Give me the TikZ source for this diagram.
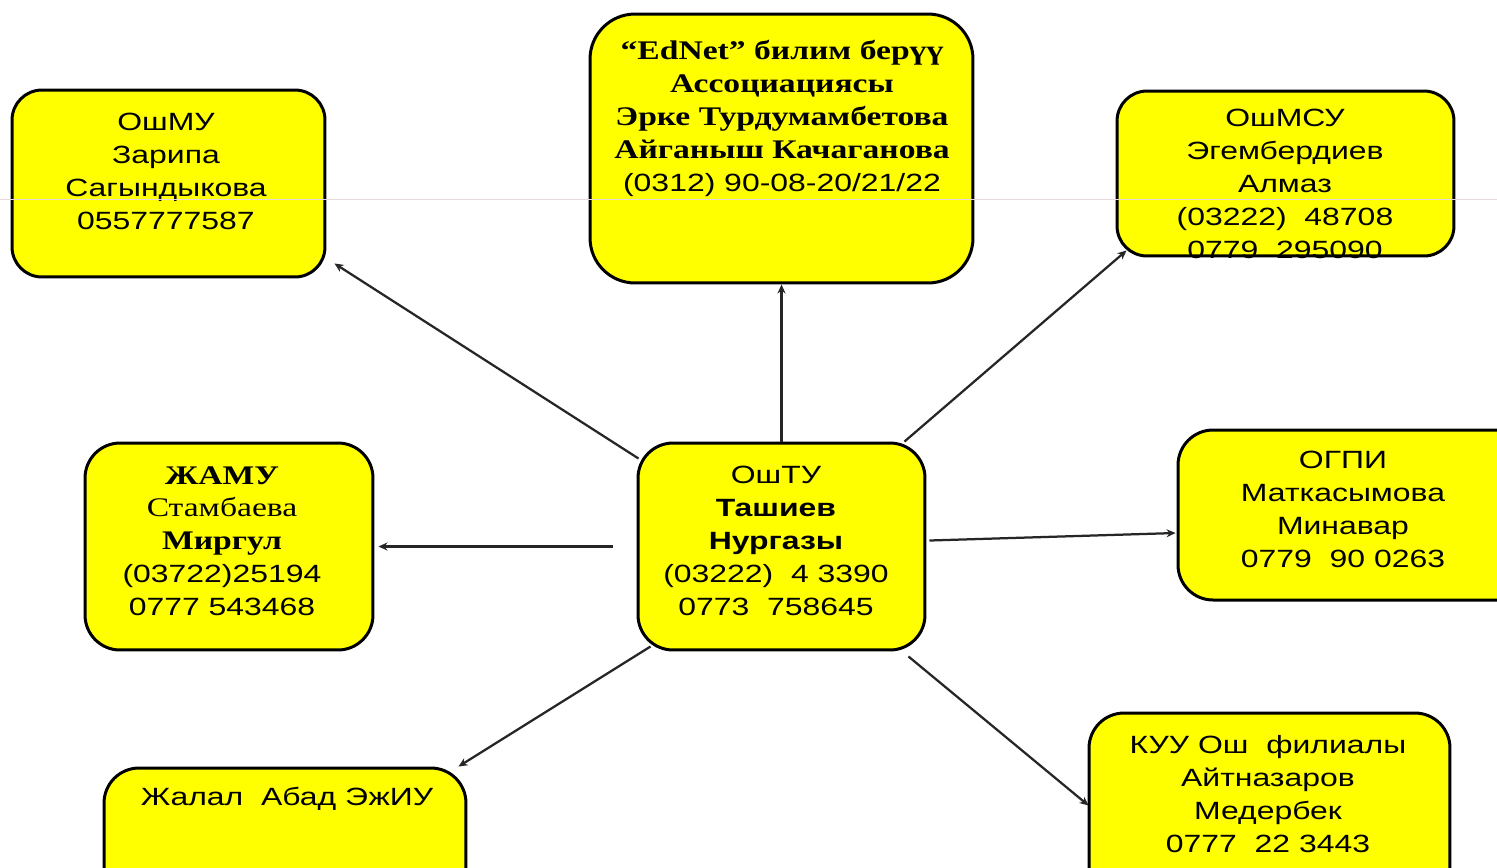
\documentclass[tikz,border=0pt]{standalone}
\usepackage{fontspec}
\setmainfont{Liberation Sans}
\newfontfamily\sansx[FakeStretch=1.28]{Liberation Sans}
\newfontfamily\serifx[FakeStretch=1.25]{Liberation Serif}
\usetikzlibrary{arrows.meta,calc}
\definecolor{boxyellow}{RGB}{255,255,0}
\definecolor{scanline}{RGB}{232,218,218}
\begin{document}
\begin{tikzpicture}[x=0.02cm,y=-0.02cm,
  box/.style={draw=black, fill=boxyellow, line width=0.06cm, rounded corners=0.7cm, inner sep=0pt},
  txt/.style={align=center, inner sep=0pt, anchor=north, text=black,
    font=\sansx\fontsize{14.2pt}{18.7pt}\selectfont},
  ser/.style={},
  link/.style={line width=0.045cm, draw=black!85, -{Stealth[length=0.18cm,width=0.16cm]}}]
\useasboundingbox (0,0) rectangle (1497,867);
\fill[white] (0,0) rectangle (1497,867);
\begin{scope}
\clip (0,0) rectangle (1497,867);
% boxes
\node[box, rounded corners=0.6cm, minimum width=6.26cm, minimum height=3.74cm] (mu) at (168.5,183.5) {};
\node[box, rounded corners=0.9cm, minimum width=7.66cm, minimum height=5.38cm] (ed) at (781.5,148.5) {};
\node[box, rounded corners=0.6cm, minimum width=6.74cm, minimum height=3.3cm] (msu) at (1285.5,173.5) {};
\node[box, minimum width=5.76cm, minimum height=4.14cm] (jamu) at (229,546.5) {};
\node[box, minimum width=5.74cm, minimum height=4.14cm] (tu) at (781.5,546.5) {};
\node[box, minimum width=7.2cm, minimum height=3.4cm] (ogpi) at (1358,515) {};
\node[box, minimum width=7.22cm, minimum height=3.74cm] (kuu) at (1269.5,806.5) {};
\node[box, minimum width=7.24cm, minimum height=3.24cm] (jal) at (285,849) {};
% texts
\node[txt] (mut) at (166,113) {ОшМУ\\Зарипа\\Сагындыкова\\0557777587};
\node[txt] (edt) at (782,40) {{\serifx\bfseries\fontsize{15.3pt}{18.7pt}\selectfont “EdNet” билим берүү}\\
  {\serifx\bfseries\fontsize{15.3pt}{18.7pt}\selectfont Ассоциациясы}\\
  {\serifx\bfseries\fontsize{15.3pt}{18.7pt}\selectfont Эрке Турдумамбетова}\\
  {\serifx\bfseries\fontsize{15.3pt}{18.7pt}\selectfont Айганыш Качаганова}\\
  (0312) 90-08-20/21/22};
\node[txt] (msut) at (1285,109) {ОшМСУ\\Эгембердиев\\Алмаз\\(03222)\ \ 48708\\0779\ \ 295090};
\node[txt] (jamut) at (222,466) {{\serifx\bfseries\fontsize{15.3pt}{18.7pt}\selectfont ЖАМУ}\\
  {\serifx\fontsize{15.3pt}{18.7pt}\selectfont Стамбаева}\\
  {\serifx\bfseries\fontsize{15.3pt}{18.7pt}\selectfont Миргул}\\
  (03722)25194\\0777 543468};
\node[txt] (tut) at (776,466) {ОшТУ\\\textbf{Ташиев}\\\textbf{Нургазы}\\(03222)\ \ 4 3390\\0773\ \ 758645};
\node[txt] (ogpit) at (1343,451) {ОГПИ\\Маткасымова\\Минавар\\0779\ \ 90 0263};
\node[txt] (kuut) at (1268,735) {КУУ Ош\ \ филиалы\\Айтназаров\\Медербек\\0777\ \ 22 3443};
\node[txt] (jalt) at (287,787) {Жалал\ \ Абад ЭжИУ};
% connectors
\draw[link] ($(tu.north west)+(2,17)$) -- ($(mu.south east)+(8,-15)$);
\draw[link] (tu.north) -- (ed.south);
\draw[link] ($(tu.north east)+(-22,0)$) -- ($(msu.south west)+(11,-7)$);
\coordinate (jstart) at ($(tu.west)+(-24,0)$);
\draw[link] (jstart) -- ($(jamu.east)+(4,0)$);
\draw[link] ($(tu.east)+(3,-6)$) -- ($(ogpi.west)+(-1,18)$);
\draw[link] ($(tu.south east)+(-18,5)$) -- ($(kuu.west)+(1,-1)$);
\draw[link] ($(tu.south west)+(14,-5)$) -- ($(jal.north east)+(-9,0)$);
% faint scan line
\draw[scanline, line width=0.02cm] (0,199.5) -- (1497,199.5);
\end{scope}
\end{tikzpicture}
\end{document}
